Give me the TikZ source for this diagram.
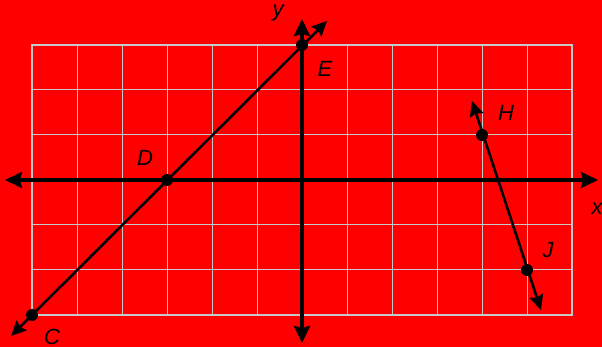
\documentclass[tikz,border=0pt]{standalone}
\usepackage{fontspec}
\setmainfont{Liberation Sans}
\usetikzlibrary{arrows.meta}
\definecolor{bgred}{RGB}{255,0,0}
\definecolor{gridgray}{RGB}{200,200,200}
\begin{document}
\begin{tikzpicture}[x=1pt,y=-1pt,
  gridline/.style={draw=gridgray, line width=1pt},
  gridframe/.style={draw=gridgray, line width=1.6pt},
  axisline/.style={line width=3.8pt, {Stealth[length=17pt,width=16pt,inset=2pt]}-{Stealth[length=17pt,width=16pt,inset=2pt]}},
  pointline/.style={line width=2.6pt, {Stealth[length=15pt,width=14pt,inset=2pt]}-{Stealth[length=15pt,width=14pt,inset=2pt]}},
  dot/.style={circle, fill=black, inner sep=0pt, minimum size=12pt},
  lbl/.style={font=\fontsize{22}{22}\selectfont\itshape, inner sep=0pt}]
\fill[bgred] (0,0) rectangle (602,347);
\useasboundingbox (0,0) rectangle (602,347);
% grid
\foreach \gx in {77,122,...,527} \draw[gridline] (\gx,45) -- (\gx,315);
\foreach \gy in {90,135,...,270} \draw[gridline] (32,\gy) -- (572,\gy);
\draw[gridframe] (32,45) rectangle (572,315);
% axes
\coordinate (xl) at (5,180);
\coordinate (xr) at (598,180);
\coordinate (yt) at (302,19);
\coordinate (yb) at (302,343);
\draw[axisline] (xl) -- (xr);
\draw[axisline] (yb) -- (yt);
% lines
\coordinate (ce1) at (11,336);
\coordinate (ce2) at (327,21);
\coordinate (hj1) at (472,101);
\coordinate (hj2) at (541,310);
\draw[pointline] (ce1) -- (ce2);
\draw[pointline] (hj1) -- (hj2);
% points
\node[dot] (C) at (32,315) {};
\node[dot] (D) at (167,180) {};
\node[dot] (E) at (302,45) {};
\node[dot] (H) at (482,135) {};
\node[dot] (J) at (527,270) {};
% labels
\node[lbl] (ly) at (278,13) {y};
\node[lbl] (lx) at (597,209) {x};
\node[lbl] (lE) at (325,69) {E};
\node[lbl] (lH) at (506,113) {H};
\node[lbl] (lJ) at (548,250) {J};
\node[lbl] (lD) at (145,158) {D};
\node[lbl] (lC) at (52,337) {C};
\end{tikzpicture}
\end{document}
